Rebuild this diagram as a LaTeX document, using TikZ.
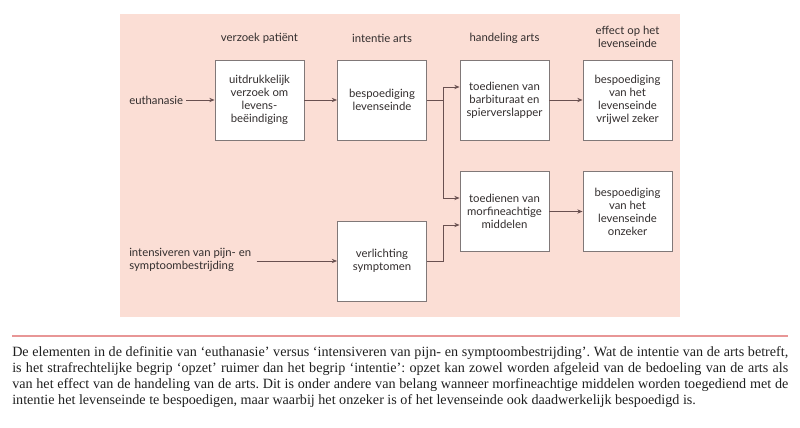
\documentclass[tikz,border=0pt]{standalone}
\usepackage{fontspec}
\setmainfont{Liberation Serif}
\newfontfamily\diagfont{Lato}
\usetikzlibrary{arrows.meta}
\definecolor{bgpink}{RGB}{251,222,213}
\definecolor{boxgray}{RGB}{128,120,120}
\definecolor{arrowcol}{RGB}{105,80,80}
\definecolor{rulecol}{RGB}{232,150,150}
\definecolor{txtgray}{RGB}{50,45,45}
\frenchspacing
\begin{document}
\begin{tikzpicture}[x=0.75pt,y=-0.75pt,
    every node/.style={font=\diagfont\fontsize{8.5}{9.8}\selectfont, text=txtgray},
    box/.style={draw=boxgray, fill=white, line width=0.6pt, align=center,
      minimum width=66.75pt, minimum height=60pt, inner sep=1pt},
    head/.style={align=center},
    lbl/.style={align=left, anchor=west, inner sep=0pt},
    arr/.style={draw=arrowcol, line width=0.6pt, -{Stealth[length=4pt,width=3.2pt]}},
    con/.style={draw=arrowcol, line width=0.6pt}]
  \useasboundingbox (0,0) rectangle (800,428);
  \fill[bgpink] (120,14) rectangle (680,317);
  % kolomkoppen
  \node[head] (hverzoek) at (259.5,38) {verzoek patiënt};
  \node[head] (hintentie) at (382,38) {intentie arts};
  \node[head] (hhandeling) at (504.5,38) {handeling arts};
  \node[head] (heffect) at (627.5,37) {effect op het\\levenseinde};
  % blokken
  \node[box] (verzoek) at (259.5,100) {uitdrukkelijk\\verzoek om\\levens-\\beëindiging};
  \node[box] (intentie) at (382,100) {bespoediging\\levenseinde};
  \node[box] (barbit) at (504.5,100) {toedienen van\\barbituraat en\\spierverslapper};
  \node[box] (zeker) at (627.5,100) {bespoediging\\van het\\levenseinde\\vrijwel zeker};
  \node[box] (morfine) at (504.5,211.5) {toedienen van\\morfineachtige\\middelen};
  \node[box] (onzeker) at (627.5,211.5) {bespoediging\\van het\\levenseinde\\onzeker};
  \node[box] (verlichting) at (382,261) {verlichting\\symptomen};
  % ingangen
  \node[lbl] (euth) at (129,100) {euthanasie};
  \node[lbl] (pijn) at (129,260) {intensiveren van pijn- en\\symptoombestrijding};
  \coordinate (ktop) at (443,87);
  \coordinate (kbot) at (443,198);
  \coordinate (kin) at (443,225);
  \draw[arr] ([xshift=2pt]euth.east) -- (verzoek);
  \draw[arr] (verzoek) -- (intentie);
  \draw[con] (intentie.east) -- (intentie.east -| ktop);
  \draw[con] (ktop) -- (kbot);
  \draw[arr] (ktop) -- (ktop -| barbit.west);
  \draw[arr] (kbot) -- (kbot -| morfine.west);
  \draw[arr] (barbit) -- (zeker);
  \draw[arr] (morfine) -- (onzeker);
  \draw[arr] ([xshift=4pt]pijn.east |- verlichting.west) -- (verlichting.west);
  \draw[arr] (verlichting.east) -| (kin) -- (kin -| morfine.west);
  % onderschrift
  \draw[rulecol, line width=0.8pt] (12,336) -- (788,336);
  \node[anchor=north west, inner sep=0pt, text width=582pt, align=justify,
    font=\rmfamily\fontsize{10.6}{12.1}\selectfont, text=black!88] (caption) at (12,346)
    {De elementen in de definitie van ‘euthanasie’ versus ‘intensiveren van pijn- en symptoombestrijding’. Wat de intentie van de arts betreft,\linebreak
    is het strafrechtelijke begrip ‘opzet’ ruimer dan het begrip ‘intentie’: opzet kan zowel worden afgeleid van de bedoeling van de arts als\linebreak
    van het effect van de handeling van de arts. Dit is onder andere van belang wanneer morfineachtige middelen worden toegediend met de\linebreak
    intentie het levenseinde te bespoedigen, maar waarbij het onzeker is of het levenseinde ook daadwerkelijk bespoedigd is.};
\end{tikzpicture}
\end{document}
